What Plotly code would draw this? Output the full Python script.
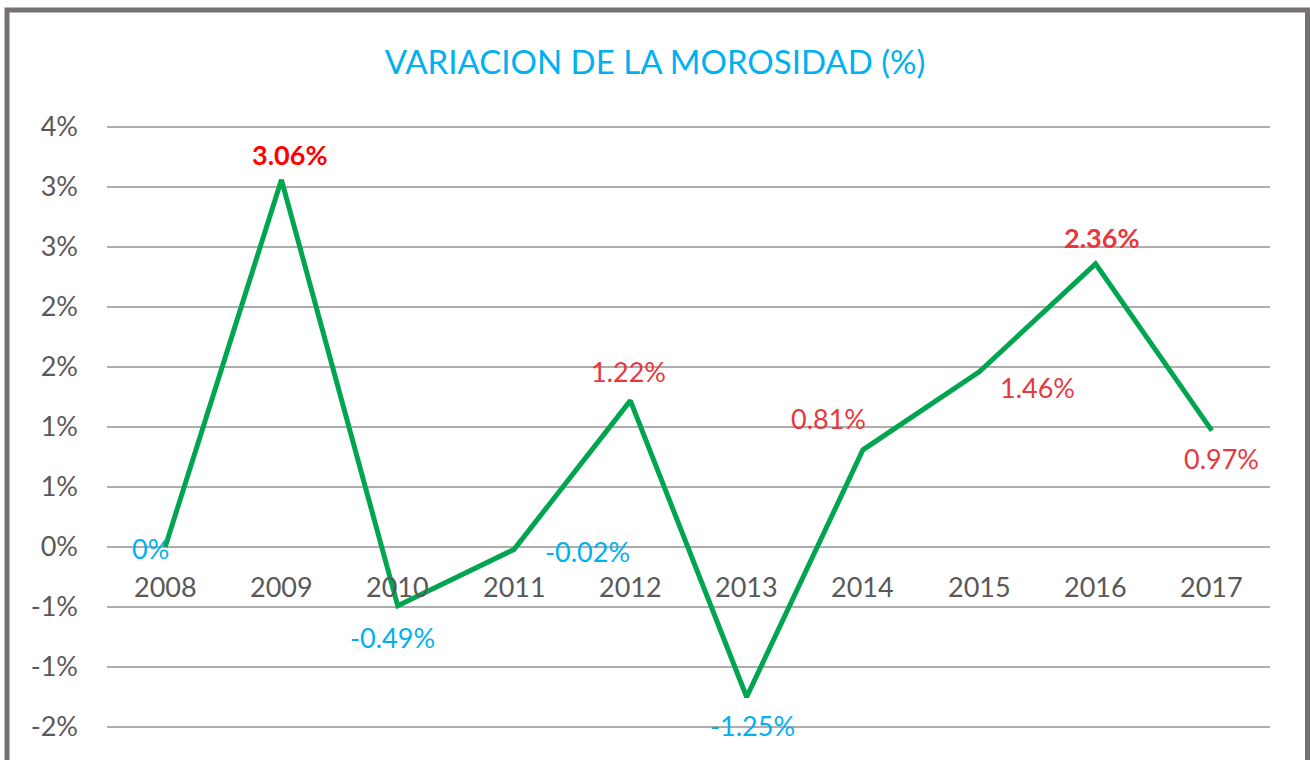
import plotly.graph_objects as go

years = ["2008", "2009", "2010", "2011", "2012", "2013", "2014", "2015", "2016", "2017"]
variation = [0.00, 3.06, -0.49, -0.02, 1.22, -1.25, 0.81, 1.46, 2.36, 0.97]
labels = ["0%", "3.06%", "-0.49%", "-0.02%", "1.22%", "-1.25%", "0.81%", "1.46%", "2.36%", "0.97%"]
tick_vals = [-1.5, -1.0, -0.5, 0.0, 0.5, 1.0, 1.5, 2.0, 2.5, 3.0, 3.5]
tick_text = ["-2%", "-1%", "-1%", "0%", "1%", "1%", "2%", "2%", "3%", "3%", "4%"]

# label styling (offsets in px, colours, bold)
label_dx = [-15, 9, -5, 73, -2, 6, -34, 58, 6, 10]
label_dy = [1, -25, 32, 2, -29, 28, -31, 16, -26, 28]
label_color = ["#00B0F0", "#FF0000", "#00B0F0", "#00B0F0", "#E8383D",
               "#00B0F0", "#E8383D", "#E8383D", "#E8383D", "#E8383D"]
label_bold = [False, True, False, False, False, False, False, False, True, False]

FONT = "Lato"
GREY_TXT = "#595959"

fig = go.Figure()
fig.add_trace(go.Scatter(
    x=years, y=variation, mode="lines",
    line=dict(color="#00A550", width=5),
    hoverinfo="skip", showlegend=False,
))

annotations = []
for i, (v, t, dx, dy, c, b) in enumerate(zip(variation, labels, label_dx, label_dy, label_color, label_bold)):
    annotations.append(dict(
        x=i, y=v, xref="x", yref="y", text=f"<b>{t}</b>" if b else t,
        showarrow=False, xanchor="center", yanchor="middle",
        xshift=dx, yshift=-dy,
        font=dict(family=FONT, size=27, color=c),
    ))
# category labels just below the zero line
for i, yr in enumerate(years):
    annotations.append(dict(
        x=i, y=0, xref="x", yref="y", text=yr, showarrow=False,
        xanchor="center", yanchor="middle", yshift=-39,
        font=dict(family=FONT, size=27, color=GREY_TXT),
    ))

y_top = 3.5 + 7 / 120
y_bot = y_top - 640 / 120

fig.update_layout(
    width=1310, height=760,
    margin=dict(l=107, r=40, t=120, b=0),
    paper_bgcolor="white", plot_bgcolor="white",
    title=dict(text="VARIACION DE LA MOROSIDAD (%)", x=0.5, xref="container",
               y=1 - 62 / 760, yref="container", yanchor="middle", xanchor="center",
               font=dict(family=FONT, size=33, color="#00B0F0")),
    xaxis=dict(type="category", range=[-0.5, 9.5], showgrid=False, showticklabels=False,
               zeroline=False, showline=False, ticks=""),
    yaxis=dict(range=[y_bot, y_top], autorange=False,
               tickvals=tick_vals, ticktext=tick_text, showgrid=True,
               gridcolor="#ADADAD", gridwidth=1.5, zeroline=False, showline=False,
               ticks="", ticklabelstandoff=28,
               tickfont=dict(family=FONT, size=27, color=GREY_TXT)),
    annotations=annotations,
    shapes=[dict(type="rect", xref="paper", yref="paper",
                 x0=(7 - 107) / 1163, x1=(1307.5 - 107) / 1163,
                 y0=-0.2, y1=(760 - 10) / 640,
                 line=dict(color="#767171", width=5), fillcolor="rgba(0,0,0,0)",
                 layer="above")],
)

fig.write_html("out.html",
               config={"displayModeBar": False},
               post_script="document.body.style.margin='0';document.body.style.overflow='hidden';")
